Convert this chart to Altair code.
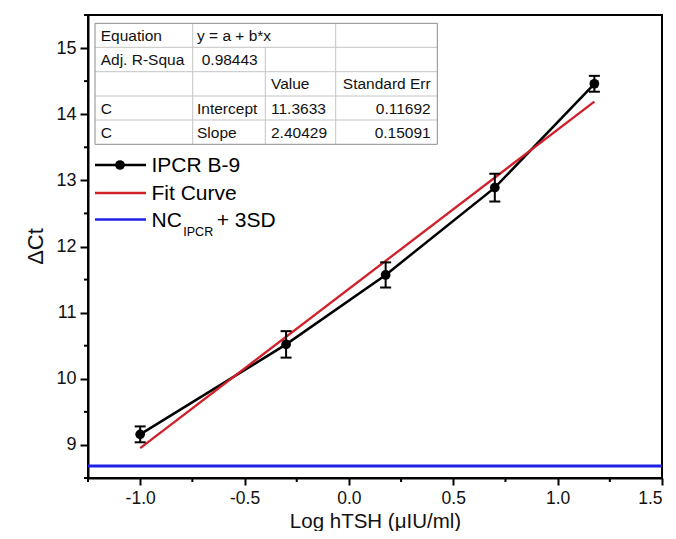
import altair as alt
import pandas as pd

# ---------------- data ----------------
log_conc = [-1.0, -0.301, 0.176, 0.699, 1.176]
delta_ct = [9.16, 10.52, 11.57, 12.89, 14.46]
ct_err = [0.12, 0.20, 0.19, 0.21, 0.12]
nc_ipcr_3sd = [8.68]

x_domain = [-1.25, 1.5]
y_domain = [8.5, 15.5]
x_major = [-1.0, -0.5, 0.0, 0.5, 1.0, 1.5]
x_minor = [-1.25, -0.75, -0.25, 0.25, 0.75, 1.25]
y_major = [9, 10, 11, 12, 13, 14, 15]
y_minor = [8.5, 9.5, 10.5, 11.5, 12.5, 13.5, 14.5, 15.5]

x_title = "Log hTSH (μIU/ml)"
y_title = "ΔCt"

table_rows = [
    ["Equation", "y = a + b*x", "", ""],
    ["Adj. R-Squa", "0.98443", "", ""],
    ["", "", "Value", "Standard Err"],
    ["C", "Intercept", "11.3633", "0.11692"],
    ["C", "Slope", "2.40429", "0.15091"],
]
legend_series = ["IPCR B-9", "Fit Curve"]
legend_nc = ["NC", "IPCR", "+ 3SD"]

# ---------------- layout / style ----------------
W, H = 574, 463
FONT = "Liberation Sans"
RED = "#d0202a"
BLUE = "#2020e6"

df = pd.DataFrame({
    "x": log_conc,
    "y": delta_ct,
    "lo": [v - e for v, e in zip(delta_ct, ct_err)],
    "hi": [v + e for v, e in zip(delta_ct, ct_err)],
})
dummy = pd.DataFrame({"a": [0]})

xscale = alt.Scale(domain=x_domain, nice=False, zero=False)
yscale = alt.Scale(domain=y_domain, nice=False, zero=False)

x_axis = alt.Axis(
    values=x_major,
    labelExpr="(datum.value < 0 ? '-' : '') + format(abs(datum.value), '.1f')",
    title=x_title, titleX=W / 2, titleY=43, titleBaseline="middle",
    titleFontSize=20.5, tickSize=7, labelPadding=4, labelFontSize=17.5,
)
y_axis = alt.Axis(
    values=y_major, format="d",
    title=y_title, titleX=-53, titleY=231, titleBaseline="middle", titleAngle=-90,
    tickSize=8, labelPadding=4,
)


def XQ(field):
    return alt.X(field + ":Q", scale=xscale, axis=x_axis)


def YQ(field):
    return alt.Y(field + ":Q", scale=yscale, axis=y_axis)


data_line = alt.Chart(df).mark_line(color="black", strokeWidth=2.5).encode(
    x=XQ("x"), y=YQ("y"))
fit_line = alt.Chart(df).transform_regression("x", "y").mark_line(
    color=RED, strokeWidth=2.3).encode(x=XQ("x"), y=YQ("y"))
err_rule = alt.Chart(df).mark_rule(color="black", strokeWidth=2).encode(
    x=XQ("x"), y=YQ("lo"), y2="hi:Q")
cap_lo = alt.Chart(df).mark_tick(color="black", orient="horizontal", size=11,
                                 thickness=2, opacity=1).encode(
    x=XQ("x"), y=YQ("lo"))
cap_hi = alt.Chart(df).mark_tick(color="black", orient="horizontal", size=11,
                                 thickness=2, opacity=1).encode(
    x=XQ("x"), y=YQ("hi"))
points = alt.Chart(df).mark_point(filled=True, color="black", size=95,
                                  opacity=1).encode(x=XQ("x"), y=YQ("y"))

nc_line = alt.Chart(pd.DataFrame({"y": nc_ipcr_3sd})).mark_rule(
    color=BLUE, strokeWidth=3).encode(y=YQ("y"), x=alt.value(0), x2=alt.value(W))

minor_x = alt.Chart(pd.DataFrame({"x": x_minor})).mark_rule(
    color="black", strokeWidth=2).encode(
    x=XQ("x"), y=alt.value(H), y2=alt.value(H + 4))
minor_y = alt.Chart(pd.DataFrame({"y": y_minor})).mark_rule(
    color="black", strokeWidth=2).encode(
    y=YQ("y"), x=alt.value(-4), x2=alt.value(0))

layers = [nc_line, data_line, fit_line, err_rule, cap_lo, cap_hi, points,
          minor_x, minor_y]

# ---------------- fit-result table ----------------
row_lines = [8.3, 32.3, 56.7, 81.0, 105.0, 129.3]
col_lines = [7.0, 104.7, 177.3, 247.7, 349.3]
t_left, t_right = col_lines[0], col_lines[-1]
t_top, t_bottom = row_lines[0], row_lines[-1]
INNER = "#c4c4c4"
OUTER = "#8c8c8c"


def hrule(y, color):
    return alt.Chart(dummy).mark_rule(color=color, strokeWidth=1).encode(
        x=alt.value(t_left), x2=alt.value(t_right), y=alt.value(y))


def vrule(x, y1, y2, color):
    return alt.Chart(dummy).mark_rule(color=color, strokeWidth=1).encode(
        x=alt.value(x), y=alt.value(y1), y2=alt.value(y2))


bg = alt.Chart(dummy).mark_rect(color="white").encode(
    x=alt.value(t_left), x2=alt.value(t_right),
    y=alt.value(t_top), y2=alt.value(t_bottom))
layers.append(bg)
for yl in row_lines[1:-1]:
    layers.append(hrule(yl, INNER))
layers.append(vrule(col_lines[1], t_top, t_bottom, INNER))
layers.append(vrule(col_lines[2], row_lines[1], t_bottom, INNER))
layers.append(vrule(col_lines[3], t_top, t_bottom, INNER))
layers.append(hrule(t_top, OUTER))
layers.append(hrule(t_bottom, OUTER))
layers.append(vrule(t_left, t_top, t_bottom, OUTER))
layers.append(vrule(t_right, t_top, t_bottom, OUTER))

text_x = [12.7, 109.0, 183.0]
right_x = 342.7
for r, row in enumerate(table_rows):
    yc = (row_lines[r] + row_lines[r + 1]) / 2
    for c, txt in enumerate(row):
        if not txt:
            continue
        if c == 3:
            align, xx = "right", right_x
        else:
            align, xx = "left", text_x[c]
            if r == 1 and c == 1:
                xx = 113.7
        layers.append(
            alt.Chart(dummy).mark_text(text=txt, align=align, baseline="middle",
                                       font=FONT, fontSize=15.5, color="#111111")
            .encode(x=alt.value(xx), y=alt.value(yc + 0.5)))

# ---------------- legend ----------------
leg_y = [150, 178, 204.5]
leg_x1, leg_x2, leg_dot, leg_tx = 7, 58, 32, 63.5
leg_colors = ["black", RED, BLUE]
for yy, col in zip(leg_y, leg_colors):
    layers.append(alt.Chart(dummy).mark_rule(color=col, strokeWidth=2.5).encode(
        x=alt.value(leg_x1), x2=alt.value(leg_x2), y=alt.value(yy)))
layers.append(alt.Chart(dummy).mark_point(filled=True, color="black", size=95,
                                          opacity=1).encode(
    x=alt.value(leg_dot), y=alt.value(leg_y[0])))
for yy, txt in zip(leg_y[:2], legend_series):
    layers.append(alt.Chart(dummy).mark_text(
        text=txt, align="left", baseline="middle", font=FONT, fontSize=21,
        color="black").encode(x=alt.value(leg_tx), y=alt.value(yy + 1)))
layers.append(alt.Chart(dummy).mark_text(
    text=legend_nc[0], align="left", baseline="middle", font=FONT, fontSize=21,
    color="black").encode(x=alt.value(leg_tx), y=alt.value(leg_y[2] + 1.5)))
layers.append(alt.Chart(dummy).mark_text(
    text=legend_nc[1], align="left", baseline="middle", font=FONT, fontSize=12.5,
    color="black").encode(x=alt.value(95.3), y=alt.value(leg_y[2] + 12.5)))
layers.append(alt.Chart(dummy).mark_text(
    text=legend_nc[2], align="left", baseline="middle", font=FONT, fontSize=21,
    color="black").encode(x=alt.value(128.7), y=alt.value(leg_y[2] + 1.5)))

chart = alt.layer(*layers).properties(
    width=W, height=H,
    autosize=alt.AutoSizeParams(type="none"),
    padding={"left": 80, "top": 7, "right": 6, "bottom": 53},
    background="white",
).configure_view(
    stroke="black", strokeWidth=2,
).configure_axis(
    grid=False, domainColor="black", domainWidth=2, tickColor="black",
    tickWidth=2, labelFont=FONT, labelFontSize=18, labelColor="#111111",
    titleFont=FONT, titleFontSize=22, titleFontWeight="normal",
    titleColor="#111111",
)

chart.save("out.html", embed_options={"renderer": "svg", "actions": False})
